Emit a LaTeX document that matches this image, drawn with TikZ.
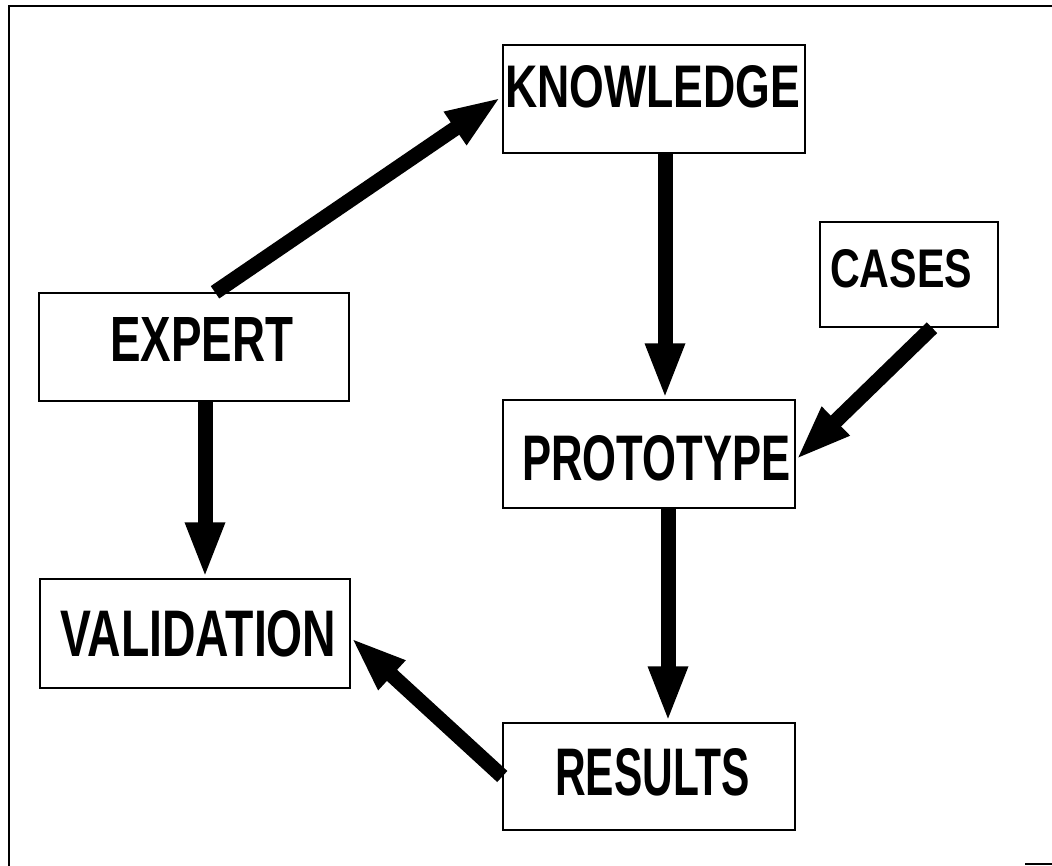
\documentclass[tikz,border=0pt]{standalone}
\usepackage{fontspec}
\setmainfont{Liberation Sans}
\usepackage{graphicx}
\usetikzlibrary{arrows.meta}
\newcommand\boxlabel[3]{\resizebox{#1pt}{#2pt}{\bfseries #3}}
\begin{document}
\begin{tikzpicture}[x=1pt,y=-1pt,
  blk/.style={draw, line width=1.4pt, inner sep=0pt},
  lbl/.style={anchor=base west, inner sep=0pt},
  arr/.style={line width=15pt, -{Triangle[length=56pt,width=36pt]}},
  frame/.style={line width=2pt}]
\useasboundingbox (0,0) rectangle (1052,866);
% frame
\draw[frame] (9,866) -- (9,6) -- (1052,6);
\draw[frame] (1025,864) -- (1052,864);
% boxes
\node[blk, minimum width=302pt, minimum height=108pt] (know) at (654,99) {};
\node[blk, minimum width=178pt, minimum height=105pt] (cases) at (909,274.5) {};
\node[blk, minimum width=310pt, minimum height=108pt] (expert) at (194,347) {};
\node[blk, minimum width=292pt, minimum height=108pt] (proto) at (649,454) {};
\node[blk, minimum width=310pt, minimum height=109pt] (valid) at (195,633.5) {};
\node[blk, minimum width=292pt, minimum height=107pt] (results) at (649,776.5) {};
% labels
\node[lbl] (know-t) at (505,108) {\boxlabel{295}{42}{KNOWLEDGE}};
\node[lbl] (cases-t) at (830,288) {\boxlabel{142}{38}{CASES}};
\node[lbl] (expert-t) at (110,362) {\boxlabel{183}{44}{EXPERT}};
\node[lbl] (proto-t) at (522,480) {\boxlabel{268}{45}{PROTOTYPE}};
\node[lbl] (valid-t) at (60,656) {\boxlabel{276}{46}{VALIDATION}};
\node[lbl] (results-t) at (555,795) {\boxlabel{195}{47}{RESULTS}};
% arrows
\draw[arr] ([xshift=21pt]expert.north) -- ([xshift=-1pt,yshift=2pt]know.west);
\draw[arr] ([xshift=11pt]know.south) -- ([xshift=16pt]proto.north);
\draw[arr] ([xshift=23pt]cases.south) -- ([yshift=-6pt]proto.east);
\draw[arr] ([xshift=11pt]expert.south) -- ([xshift=10pt]valid.north);
\draw[arr] ([xshift=19pt]proto.south) -- ([xshift=19pt]results.north);
\draw[arr] (results.west) -- ([yshift=-4pt]valid.east);
\end{tikzpicture}
\end{document}
